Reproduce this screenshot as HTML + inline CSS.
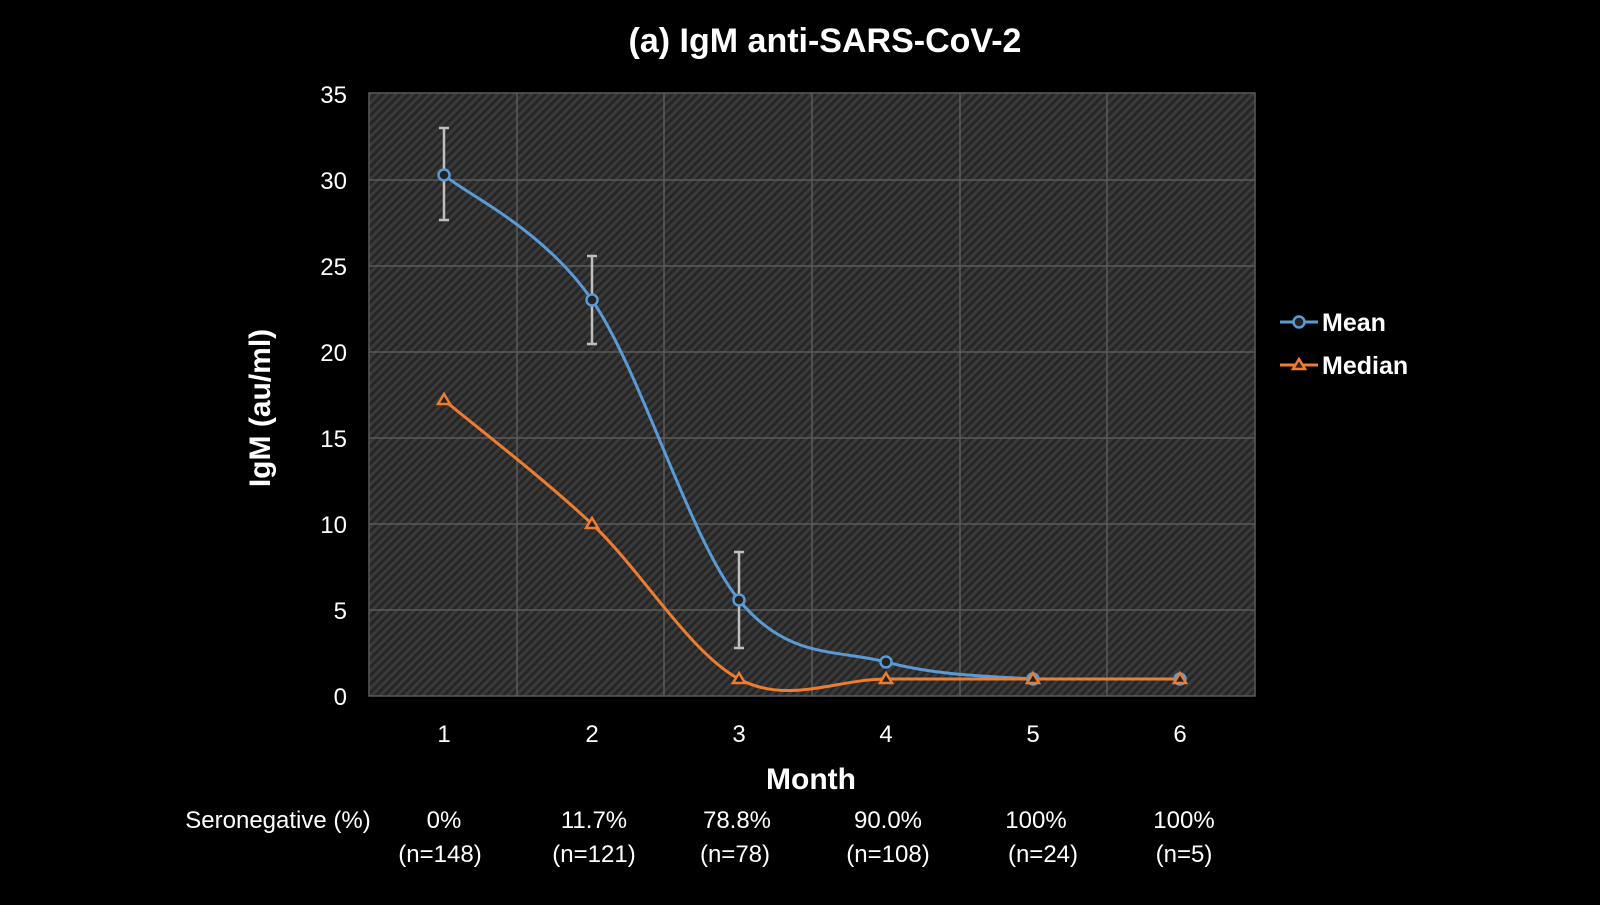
<!DOCTYPE html>
<html><head><style>
html,body{margin:0;padding:0;background:#000;}
svg text{font-family:"Liberation Sans",sans-serif;fill:#fff;}
</style></head><body>
<svg width="1600" height="900" viewBox="0 0 1600 900" xmlns="http://www.w3.org/2000/svg">
<defs>
<pattern id="h" width="6" height="6" patternUnits="userSpaceOnUse" patternTransform="rotate(45)">
<rect width="6" height="6" fill="#3a3a3a"/>
<rect width="3" height="6" fill="#262626"/>
</pattern>
</defs>
<rect width="1600" height="900" fill="#000"/>
<text x="825" y="52" font-size="34" font-weight="bold" text-anchor="middle">(a) IgM anti-SARS-CoV-2</text>
<rect x="369" y="93" width="886" height="603" fill="url(#h)"/>
<g stroke="#5a5a5a" stroke-width="1.5">
<line x1="369" y1="180" x2="1255" y2="180"/><line x1="369" y1="266" x2="1255" y2="266"/>
<line x1="369" y1="352" x2="1255" y2="352"/><line x1="369" y1="438" x2="1255" y2="438"/>
<line x1="369" y1="524" x2="1255" y2="524"/><line x1="369" y1="610" x2="1255" y2="610"/>
<line x1="517" y1="93" x2="517" y2="696"/><line x1="664" y1="93" x2="664" y2="696"/>
<line x1="812" y1="93" x2="812" y2="696"/><line x1="960" y1="93" x2="960" y2="696"/>
<line x1="1107" y1="93" x2="1107" y2="696"/>
</g>
<rect x="369" y="93" width="886" height="603" fill="none" stroke="#5a5a5a" stroke-width="1.5"/>
<g font-size="24" text-anchor="end">
<text x="347" y="103">35</text><text x="347" y="189">30</text><text x="347" y="275">25</text>
<text x="347" y="361">20</text><text x="347" y="447">15</text><text x="347" y="533">10</text>
<text x="347" y="619">5</text><text x="347" y="705">0</text>
</g>
<g font-size="24" text-anchor="middle">
<text x="444" y="742">1</text><text x="592" y="742">2</text><text x="739" y="742">3</text>
<text x="886" y="742">4</text><text x="1033" y="742">5</text><text x="1180" y="742">6</text>
</g>
<text x="811" y="789" font-size="30" font-weight="bold" text-anchor="middle">Month</text>
<text transform="translate(270,408) rotate(-90)" font-size="30" font-weight="bold" text-anchor="middle">IgM (au/ml)</text>
<g font-size="24" text-anchor="middle">
<text x="278" y="828">Seronegative (%)</text>
<text x="444" y="828">0%</text><text x="440" y="862">(n=148)</text>
<text x="594" y="828">11.7%</text><text x="594" y="862">(n=121)</text>
<text x="737" y="828">78.8%</text><text x="735" y="862">(n=78)</text>
<text x="888" y="828">90.0%</text><text x="888" y="862">(n=108)</text>
<text x="1036" y="828">100%</text><text x="1043" y="862">(n=24)</text>
<text x="1184" y="828">100%</text><text x="1184" y="862">(n=5)</text>
</g>
<g stroke="#bfbfbf" stroke-width="2.5">
<line x1="444" y1="128" x2="444" y2="220"/><line x1="439" y1="128" x2="449" y2="128"/><line x1="439" y1="220" x2="449" y2="220"/>
<line x1="592" y1="256" x2="592" y2="344"/><line x1="587" y1="256" x2="597" y2="256"/><line x1="587" y1="344" x2="597" y2="344"/>
<line x1="739" y1="552" x2="739" y2="648"/><line x1="734" y1="552" x2="744" y2="552"/><line x1="734" y1="648" x2="744" y2="648"/>
</g>
<path d="M444,175 C469,196 543,229 592,300 C641,371 690,540 739,600 C788,660 837,649 886,662 C935,675 984,676 1033,679 C1082,679 1155,679 1180,679" fill="none" stroke="#5b9bd5" stroke-width="3"/>
<path d="M444,400 C469,421 543,478 592,524 C641,570 690,653 739,679 C788,705 837,679 886,679 L1180,679" fill="none" stroke="#ed7d31" stroke-width="3"/>
<g fill="#222" stroke="#5b9bd5" stroke-width="2.5">
<circle cx="444" cy="175" r="5.5"/><circle cx="592" cy="300" r="5.5"/><circle cx="739" cy="600" r="5.5"/>
<circle cx="886" cy="662" r="5.5"/><circle cx="1033" cy="679" r="5.5"/><circle cx="1180" cy="679" r="5.5"/>
</g>
<g fill="#222" stroke="#ed7d31" stroke-width="2.5">
<path d="M444,394 l6,10 h-12z"/><path d="M592,518 l6,10 h-12z"/><path d="M739,673 l6,10 h-12z"/>
<path d="M886,673 l6,10 h-12z"/><path d="M1033,673 l6,10 h-12z"/><path d="M1180,673 l6,10 h-12z"/>
</g>
<line x1="1280" y1="322" x2="1318" y2="322" stroke="#5b9bd5" stroke-width="3"/>
<circle cx="1299" cy="322" r="5.5" fill="#222" stroke="#5b9bd5" stroke-width="2.5"/>
<text x="1322" y="331" font-size="25" font-weight="bold">Mean</text>
<line x1="1280" y1="365" x2="1318" y2="365" stroke="#ed7d31" stroke-width="3"/>
<path d="M1299,359 l6,10 h-12z" fill="#222" stroke="#ed7d31" stroke-width="2.5"/>
<text x="1322" y="374" font-size="25" font-weight="bold">Median</text>
</svg>
</body></html>
